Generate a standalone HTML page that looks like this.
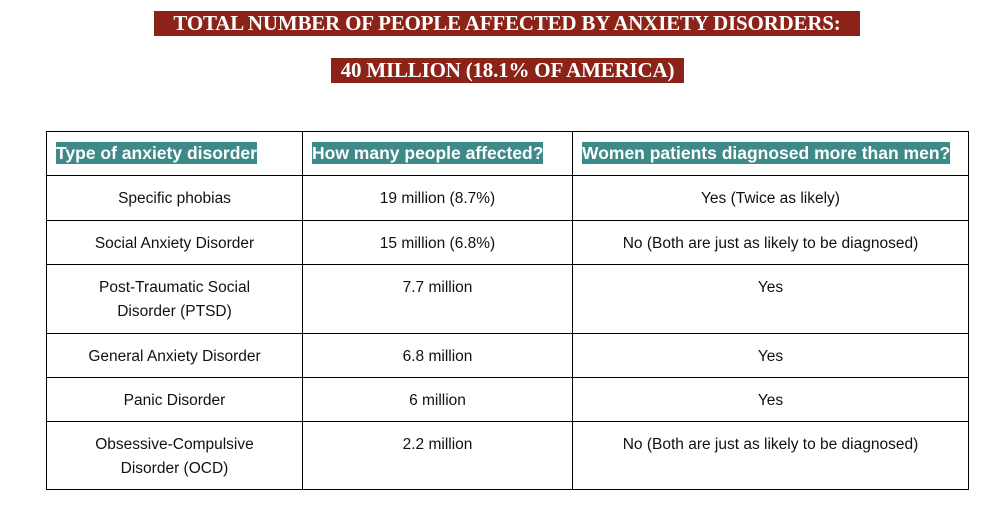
<!DOCTYPE html>
<html><head><style>
body{margin:0;width:990px;height:513px;background:#fff;position:relative;overflow:hidden}
.t{position:absolute;background:#8b2318;color:#fff;font:bold 21px "Liberation Serif",serif;line-height:25px;white-space:nowrap;letter-spacing:-0.2px}
table{position:absolute;left:46px;top:131px;border-collapse:collapse;font:15.5px "Liberation Sans",sans-serif;color:#111}
td{border:1px solid #000;vertical-align:top;padding:11px 4px 0 4px;text-align:center;line-height:24px;box-sizing:border-box;white-space:nowrap}
th{border:1px solid #000;text-align:left;padding:0 9px;height:44px;font-weight:bold;box-sizing:border-box;white-space:nowrap}
th span{background:#3e8a88;color:#fff;font-size:17.5px;padding:1px 0}
</style></head><body>
<div class="t" style="left:154px;top:11px;width:706px;text-align:center">TOTAL NUMBER OF PEOPLE AFFECTED BY ANXIETY DISORDERS:</div>
<div class="t" style="left:331px;top:58px;width:353px;text-align:center">40 MILLION (18.1% OF AMERICA)</div>
<table>
<tr><th style="width:256px"><span>Type of anxiety disorder</span></th><th style="width:270px"><span>How many people affected?</span></th><th style="width:396px"><span>Women patients diagnosed more than men?</span></th></tr>
<tr style="height:45px"><td>Specific phobias</td><td>19 million (8.7%)</td><td>Yes (Twice as likely)</td></tr>
<tr style="height:44px"><td>Social Anxiety Disorder</td><td>15 million (6.8%)</td><td>No (Both are just as likely to be diagnosed)</td></tr>
<tr style="height:69px"><td>Post-Traumatic Social<br>Disorder (PTSD)</td><td>7.7 million</td><td>Yes</td></tr>
<tr style="height:44px"><td>General Anxiety Disorder</td><td>6.8 million</td><td>Yes</td></tr>
<tr style="height:44px"><td>Panic Disorder</td><td>6 million</td><td>Yes</td></tr>
<tr style="height:68px"><td>Obsessive-Compulsive<br>Disorder (OCD)</td><td>2.2 million</td><td>No (Both are just as likely to be diagnosed)</td></tr>
</table>
</body></html>
